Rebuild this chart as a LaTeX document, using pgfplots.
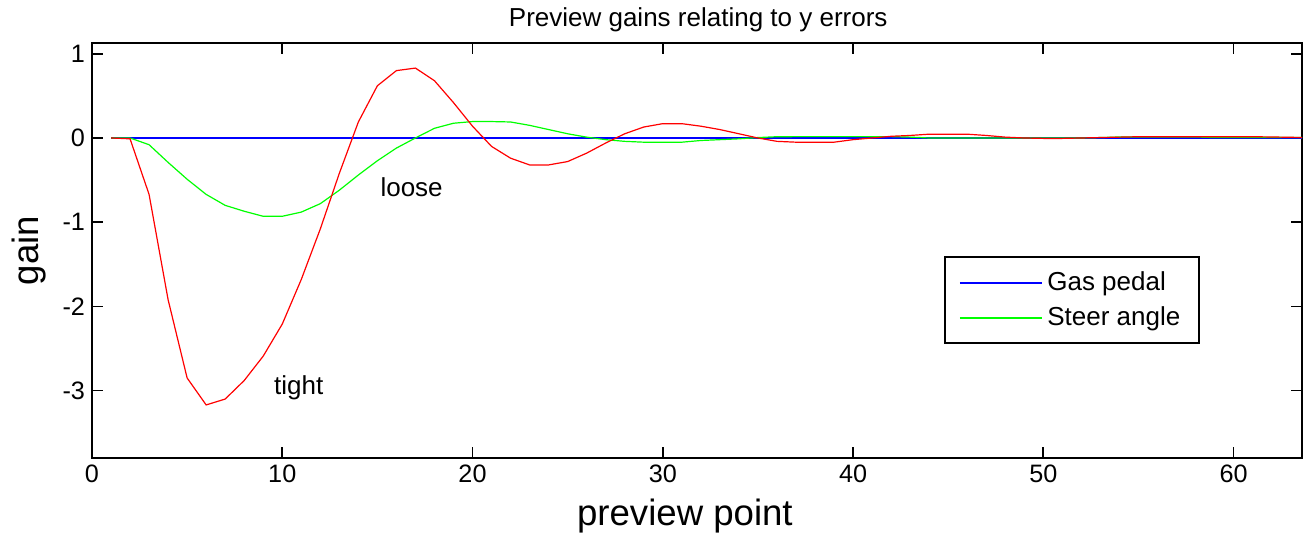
\documentclass[border=0pt]{standalone}
\usepackage{fontspec}
\setmainfont{Liberation Sans}
\usepackage{pgfplots}
\pgfplotsset{compat=1.18}
\usepackage{pgfplotstable}

% Preview gains (y errors) for points 1..64
\pgfplotstableread{
k  gas  steer   tight
1  0    0       0
2  0    0      -0.01
3  0   -0.08   -0.67
4  0   -0.29   -1.92
5  0   -0.49   -2.85
6  0   -0.67   -3.17
7  0   -0.80   -3.10
8  0   -0.87   -2.88
9  0   -0.93   -2.59
10 0   -0.93   -2.21
11 0   -0.88   -1.68
12 0   -0.78   -1.08
13 0   -0.62   -0.42
14 0   -0.44    0.19
15 0   -0.27    0.62
16 0   -0.12    0.80
17 0    0.00    0.83
18 0    0.115   0.68
19 0    0.175   0.42
20 0    0.195   0.14
21 0    0.195  -0.10
22 0    0.19   -0.24
23 0    0.15   -0.32
24 0    0.10   -0.32
25 0    0.05   -0.28
26 0    0.01   -0.18
27 0   -0.02   -0.06
28 0   -0.04    0.05
29 0   -0.05    0.13
30 0   -0.05    0.17
31 0   -0.05    0.17
32 0   -0.03    0.14
33 0   -0.02    0.10
34 0   -0.01    0.05
35 0    0.005   0.00
36 0    0.015  -0.04
37 0    0.016  -0.05
38 0    0.016  -0.05
39 0    0.016  -0.05
40 0    0.016  -0.02
41 0    0.016   0.00
42 0    0.016   0.02
43 0    0.01    0.03
44 0    0.0     0.045
45 0    0.0     0.045
46 0    0.0     0.045
47 0    0.0     0.03
48 0    0.0     0.01
49 0    0.0     0.00
50 0    0.0    -0.005
51 0    0.0    -0.005
52 0    0.0     0.0
53 0    0.005   0.005
54 0    0.012   0.01
55 0    0.012   0.015
56 0    0.012   0.015
57 0    0.012   0.015
58 0    0.012   0.015
59 0    0.005   0.015
60 0    0.005   0.015
61 0    0.005   0.015
62 0    0.005   0.012
63 0    0.005   0.008
64 0    0.005   0.005
}\gains

\begin{document}
\begin{tikzpicture}
\begin{axis}[
  scale only axis,
  width=605pt, height=207.5pt,
  xmin=0, xmax=63.6,
  ymin=-3.80, ymax=1.128,
  xtick={0,10,20,30,40,50,60},
  xticklabels={0,10,20,30,40,50,60},
  ytick={-3,-2,-1,0,1},
  yticklabels={-3,-2,-1,0,1},
  tick align=inside,
  major tick length=5.5pt,
  every tick/.style={black, line width=0.8pt},
  axis line style={line width=1.2pt},
  ticklabel style={font=\fontsize{12.6}{14}\selectfont},
  every axis title shift=0pt,
  title={Preview gains relating to y errors},
  title style={font=\fontsize{13}{15}\selectfont, at={(axis description cs:0.501,1.0)}, anchor=base, yshift=8pt},
  xlabel={preview point},
  xlabel style={font=\fontsize{18.3}{21}\selectfont, at={(axis description cs:0.49,-0.140)}, anchor=center},
  ylabel={gain},
  ylabel style={font=\fontsize{18.3}{21}\selectfont, at={(axis description cs:-0.052,0.5)}, anchor=center, rotate=0},
  legend style={
    at={(axis description cs:0.704,0.486)}, anchor=north west,
    draw=black, line width=1pt,
    inner xsep=7pt, inner ysep=5pt,
    nodes={inner sep=2.25pt},
    font=\fontsize{13}{15}\selectfont,
    row sep=2pt,
    /tikz/every even column/.append style={column sep=0pt},
  },
  legend cell align=left,
  legend image code/.code={\draw[#1, line width=\pgfkeysvalueof{/pgfplots/lw}] (0pt,0pt) -- (41pt,0pt);},
  lw/.initial=1pt,
]
\addplot[color=blue, line width=1.4pt] table[x=k, y=gas] {\gains};
\addlegendentry{Gas pedal}
\addplot[color=green, line width=0.6pt] table[x=k, y=steer] {\gains};
\addlegendentry{Steer angle}
\addplot[color=red, line width=0.6pt, forget plot] table[x=k, y=tight] {\gains};

\node[anchor=base, font=\fontsize{13}{15}\selectfont] at (axis cs:16.8,-0.69) {loose};
\node[anchor=base, font=\fontsize{13}{15}\selectfont] at (axis cs:10.87,-3.05) {tight};
\end{axis}
\pgfresetboundingbox
\path (-46pt,-37.5pt) rectangle (606.5pt,229pt);
\end{tikzpicture}
\end{document}
